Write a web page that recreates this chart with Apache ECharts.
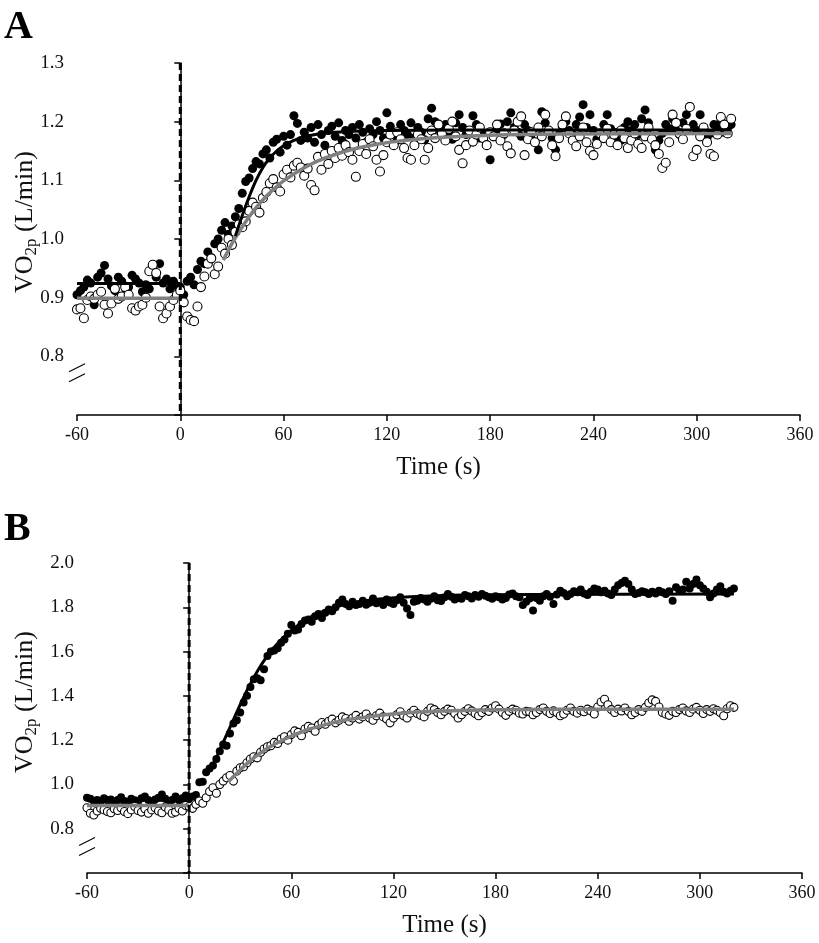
<!DOCTYPE html>
<html><head><meta charset="utf-8">
<script src="https://cdn.jsdelivr.net/npm/echarts@6/dist/echarts.min.js"></script>
<style>html,body{margin:0;padding:0;background:#fff}#c{width:819px;height:943px}</style>
</head><body><div id="c"></div>
<script>
// ---- time grid (s) ----
const times = [-60,-58,-56,-54,-52,-50,-48,-46,-44,-42,-40,-38,-36,-34,-32,-30,-28,-26,-24,-22,-20,-18,-16,-14,-12,-10,-8,-6,-4,-2,
0,2,4,6,8,10,12,14,16,18,20,22,24,26,28,30,32,34,36,38,40,42,44,46,48,50,52,54,56,58,60,62,64,66,68,70,72,74,76,78,
80,82,84,86,88,90,92,94,96,98,100,102,104,106,108,110,112,114,116,118,120,122,124,126,128,130,132,134,136,138,
140,142,144,146,148,150,152,154,156,158,160,162,164,166,168,170,172,174,176,178,180,182,184,186,188,190,192,194,196,198,
200,202,204,206,208,210,212,214,216,218,220,222,224,226,228,230,232,234,236,238,240,242,244,246,248,250,252,254,256,258,
260,262,264,266,268,270,272,274,276,278,280,282,284,286,288,290,292,294,296,298,300,302,304,306,308,310,312,314,316,318,320];

// ---- Panel A: filled circles ----
const vo2A_filled = [
0.905,0.912,0.918,0.930,0.925,0.888,0.935,0.942,0.955,0.932,
0.920,0.912,0.935,0.928,0.905,0.918,0.938,0.932,0.925,0.910,
0.922,0.915,0.945,0.935,0.958,0.925,0.932,0.915,0.928,0.920,
0.918,0.905,0.928,0.935,0.922,0.948,0.962,0.958,0.978,0.968,
0.992,1.000,1.015,1.028,1.008,1.022,1.038,1.052,1.078,1.098,
1.104,1.120,1.132,1.128,1.145,1.152,1.138,1.165,1.170,1.148,
1.175,1.160,1.178,1.210,1.197,1.168,1.182,1.172,1.190,1.165,
1.195,1.178,1.160,1.185,1.192,1.175,1.198,1.168,1.185,1.178,
1.190,1.172,1.195,1.182,1.165,1.188,1.178,1.200,1.185,1.172,
1.215,1.192,1.180,1.168,1.195,1.185,1.178,1.198,1.172,1.190,
1.182,1.169,1.205,1.223,1.200,1.188,1.178,1.195,1.182,1.170,
1.198,1.212,1.190,1.178,1.185,1.210,1.195,1.172,1.180,1.160,
1.135,1.175,1.188,1.196,1.178,1.200,1.215,1.190,1.182,1.175,
1.195,1.185,1.170,1.165,1.152,1.217,1.198,1.185,1.172,1.152,
1.178,1.190,1.200,1.185,1.178,1.195,1.208,1.229,1.190,1.212,
1.185,1.170,1.178,1.195,1.212,1.188,1.175,1.182,1.168,1.190,
1.200,1.185,1.195,1.178,1.205,1.220,1.198,1.172,1.152,1.168,
1.180,1.195,1.188,1.205,1.185,1.178,1.198,1.212,1.226,1.195,
1.185,1.212,1.190,1.172,1.180,1.195,1.188,1.200,1.182,1.190,
1.195];

// ---- Panel A: open circles ----
const vo2A_open = [
0.880,0.882,0.865,0.896,0.902,0.898,0.905,0.910,0.888,0.873,
0.890,0.915,0.898,0.902,0.918,0.905,0.882,0.878,0.885,0.888,
0.900,0.945,0.956,0.942,0.885,0.865,0.873,0.885,0.896,0.905,
0.912,0.892,0.868,0.862,0.860,0.885,0.918,0.936,0.958,0.967,
0.940,0.953,0.985,0.975,1.000,0.990,1.012,1.025,1.020,1.030,
1.048,1.062,1.055,1.045,1.070,1.080,1.095,1.102,1.088,1.081,
1.110,1.118,1.105,1.125,1.130,1.122,1.108,1.120,1.092,1.083,
1.140,1.118,1.145,1.128,1.150,1.138,1.155,1.142,1.160,1.148,
1.135,1.106,1.150,1.162,1.145,1.170,1.158,1.135,1.115,1.143,
1.165,1.178,1.160,1.182,1.170,1.155,1.138,1.135,1.160,1.178,
1.170,1.135,1.155,1.185,1.172,1.195,1.180,1.168,1.188,1.200,
1.175,1.152,1.129,1.160,1.185,1.166,1.178,1.190,1.172,1.160,
1.182,1.175,1.195,1.168,1.180,1.158,1.146,1.185,1.200,1.209,
1.143,1.170,1.182,1.165,1.190,1.175,1.212,1.185,1.160,1.141,
1.172,1.195,1.209,1.180,1.168,1.158,1.175,1.190,1.165,1.150,
1.143,1.162,1.180,1.172,1.188,1.165,1.178,1.160,1.185,1.172,
1.155,1.168,1.180,1.162,1.155,1.175,1.190,1.170,1.160,1.145,
1.121,1.130,1.165,1.212,1.198,1.180,1.170,1.188,1.225,1.141,
1.152,1.175,1.190,1.165,1.145,1.141,1.178,1.208,1.195,1.180,
1.205];

// ---- Panel B: filled circles ----
const vo2B_filled = [
0.940,0.935,0.925,0.930,0.920,0.938,0.928,0.932,0.915,0.930,
0.942,0.925,0.918,0.935,0.928,0.922,0.938,0.945,0.930,0.920,
0.932,0.940,0.955,0.935,0.925,0.930,0.945,0.928,0.938,0.950,
0.935,0.945,0.952,1.010,1.012,1.055,1.072,1.085,1.115,1.150,
1.180,1.175,1.230,1.275,1.290,1.325,1.370,1.400,1.440,1.475,
1.480,1.470,1.520,1.580,1.600,1.605,1.615,1.640,1.655,1.680,
1.720,1.695,1.700,1.725,1.740,1.745,1.735,1.760,1.770,1.752,
1.775,1.790,1.782,1.800,1.820,1.835,1.815,1.805,1.825,1.810,
1.815,1.830,1.812,1.820,1.840,1.818,1.825,1.810,1.835,1.822,
1.815,1.832,1.845,1.820,1.795,1.765,1.825,1.830,1.842,1.835,
1.825,1.838,1.850,1.832,1.828,1.845,1.860,1.848,1.835,1.842,
1.838,1.855,1.850,1.840,1.855,1.848,1.860,1.852,1.845,1.838,
1.850,1.845,1.835,1.842,1.858,1.862,1.850,1.845,1.810,1.825,
1.840,1.785,1.842,1.830,1.850,1.860,1.848,1.815,1.858,1.875,
1.865,1.850,1.860,1.872,1.868,1.880,1.862,1.855,1.870,1.885,
1.880,1.868,1.875,1.862,1.855,1.880,1.900,1.910,1.920,1.905,
1.880,1.860,1.865,1.872,1.868,1.860,1.870,1.862,1.875,1.868,
1.860,1.872,1.830,1.890,1.875,1.880,1.915,1.885,1.905,1.925,
1.900,1.885,1.870,1.845,1.862,1.880,1.895,1.870,1.862,1.875,
1.885];

// ---- Panel B: open circles ----
const vo2B_open = [
0.895,0.870,0.862,0.880,0.892,0.885,0.878,0.872,0.890,0.882,
0.895,0.878,0.868,0.885,0.900,0.882,0.875,0.890,0.870,0.885,
0.895,0.880,0.872,0.898,0.885,0.870,0.875,0.892,0.880,0.905,
0.900,0.892,0.910,0.925,0.915,0.940,0.968,0.985,0.960,1.000,
1.015,1.030,1.040,1.015,1.060,1.075,1.080,1.098,1.115,1.125,
1.120,1.145,1.160,1.170,1.175,1.190,1.185,1.205,1.215,1.200,
1.225,1.242,1.235,1.220,1.250,1.262,1.255,1.240,1.268,1.280,
1.272,1.285,1.295,1.278,1.290,1.305,1.298,1.285,1.300,1.312,
1.295,1.305,1.318,1.300,1.290,1.310,1.322,1.305,1.295,1.278,
1.300,1.315,1.328,1.310,1.300,1.322,1.335,1.320,1.312,1.305,
1.330,1.345,1.338,1.325,1.315,1.330,1.340,1.335,1.320,1.300,
1.315,1.330,1.342,1.332,1.320,1.310,1.325,1.338,1.330,1.345,
1.355,1.340,1.325,1.312,1.330,1.340,1.335,1.322,1.318,1.330,
1.328,1.315,1.325,1.338,1.345,1.330,1.320,1.332,1.325,1.310,
1.318,1.335,1.345,1.330,1.322,1.335,1.328,1.340,1.332,1.318,
1.350,1.372,1.385,1.360,1.338,1.325,1.340,1.332,1.345,1.330,
1.315,1.325,1.338,1.330,1.348,1.368,1.382,1.375,1.350,1.325,
1.318,1.312,1.330,1.325,1.338,1.345,1.332,1.325,1.340,1.348,
1.335,1.320,1.338,1.330,1.342,1.335,1.325,1.310,1.342,1.355,
1.348];

// ---- model fits ----
const fitA_black_base_t = [-60, 0],  fitA_black_base_v = [0.924, 0.924];
const fitA_black_t = [32,36,40,44,48,52,56,60,66,72,80,90,105,120,200,320];
const fitA_black_v = [1.005,1.040,1.072,1.100,1.122,1.138,1.150,1.159,1.168,1.174,1.179,1.182,1.184,1.185,1.186,1.186];
const fitA_gray_base_t = [-60, 0],   fitA_gray_base_v = [0.899, 0.899];
const fitA_gray_t = [25,30,35,40,45,50,55,60,70,80,90,100,115,130,150,180,220,320];
const fitA_gray_v = [0.964,0.992,1.016,1.038,1.057,1.073,1.087,1.099,1.118,1.133,1.144,1.153,1.162,1.168,1.173,1.177,1.179,1.180];

const fitB_black_base_t = [-60, 0],  fitB_black_base_v = [0.928, 0.928];
const fitB_black_t = [12,16,20,25,30,35,40,45,50,55,60,70,80,90,100,115,130,160,200,320];
const fitB_black_v = [1.065,1.120,1.190,1.275,1.360,1.440,1.510,1.570,1.620,1.660,1.695,1.750,1.785,1.810,1.826,1.840,1.848,1.855,1.858,1.860];
const fitB_gray_base_t = [-60, 0],   fitB_gray_base_v = [0.905, 0.905];
const fitB_gray_t = [23,28,33,38,43,48,53,60,70,80,90,100,115,130,150,180,220,320];
const fitB_gray_v = [1.012,1.050,1.087,1.120,1.148,1.172,1.193,1.218,1.248,1.270,1.288,1.300,1.315,1.325,1.332,1.337,1.339,1.340];

// ---- axes ----
const xTicks = [-60, 0, 60, 120, 180, 240, 300, 360];
const yTicksA = [0.8, 0.9, 1.0, 1.1, 1.2, 1.3];
const yTicksB = [0.8, 1.0, 1.2, 1.4, 1.6, 1.8, 2.0];
const yRangeA = [0.7, 1.3], yRangeB = [0.6, 2.0];
const onsetTime = 0;

const zip = (t, v) => t.map((x, i) => [x, v[i]]);
const SERIF = '"Liberation Serif", "Times New Roman", serif';

function xAxisCfg(idx) {
  return {
    type: 'value', gridIndex: idx, min: xTicks[0], max: xTicks[xTicks.length - 1], interval: 60,
    name: 'Time (s)', nameLocation: 'middle', nameGap: 40,
    nameTextStyle: { fontFamily: SERIF, fontSize: 25, color: '#111' },
    axisLine: { lineStyle: { color: '#000', width: 1.5 } },
    axisTick: { show: true, inside: false, length: 6, lineStyle: { color: '#000', width: 1.5 } },
    axisLabel: { fontFamily: SERIF, fontSize: 18, color: '#111', margin: 11 },
    splitLine: { show: false }
  };
}
function yAxisCfg(idx, range, interval, shown) {
  return {
    type: 'value', gridIndex: idx, min: range[0], max: range[1], interval: interval,
    axisLine: { show: true, lineStyle: { color: '#000', width: 1.5 } },
    axisTick: { show: true, inside: false, length: 6, lineStyle: { color: '#000', width: 1.5 } },
    axisLabel: {
      fontFamily: SERIF, fontSize: 19, color: '#111', margin: 13,
      formatter: v => { const r = Math.round(v * 10) / 10; return shown.some(s => Math.abs(s - r) < 1e-6) ? r.toFixed(1) : ''; }
    },
    splitLine: { show: false }
  };
}

function scatterFilled(xi, data, size) {
  return { type: 'scatter', xAxisIndex: xi, yAxisIndex: xi, data: data, symbol: 'circle', symbolSize: size,
    itemStyle: { color: '#000', opacity: 1 }, z: 2, animation: false, silent: true };
}
function scatterOpen(xi, data, size) {
  return { type: 'scatter', xAxisIndex: xi, yAxisIndex: xi, data: data, symbol: 'circle', symbolSize: size,
    itemStyle: { color: '#fff', borderColor: '#000', borderWidth: 1.1, opacity: 1 }, z: 3, animation: false, silent: true };
}
function fitLine(xi, data, color, width) {
  return { type: 'line', xAxisIndex: xi, yAxisIndex: xi, data: data, showSymbol: false, smooth: 0.3,
    lineStyle: { color: color, width: width }, z: 4, animation: false, silent: true };
}

const chart = echarts.init(document.getElementById('c'), null, { renderer: 'canvas' });
chart.setOption({
  backgroundColor: '#fff',
  animation: false,
  grid: [
    { left: 77, top: 63, width: 723, height: 352 },
    { left: 87, top: 563, width: 715, height: 310 }
  ],
  xAxis: [xAxisCfg(0), xAxisCfg(1)],
  yAxis: [yAxisCfg(0, yRangeA, 0.1, yTicksA), yAxisCfg(1, yRangeB, 0.2, yTicksB)],
  series: [
    scatterFilled(0, zip(times, vo2A_filled), 9),
    scatterOpen(0, zip(times, vo2A_open), 9),
    fitLine(0, zip(fitA_gray_base_t, fitA_gray_base_v), '#808080', 3.5),
    fitLine(0, zip(fitA_gray_t, fitA_gray_v), '#808080', 3.5),
    fitLine(0, zip(fitA_black_base_t, fitA_black_base_v), '#000', 3),
    fitLine(0, zip(fitA_black_t, fitA_black_v), '#000', 3),
    scatterFilled(1, zip(times, vo2B_filled), 8),
    scatterOpen(1, zip(times, vo2B_open), 8),
    fitLine(1, zip(fitB_gray_base_t, fitB_gray_base_v), '#808080', 3.5),
    fitLine(1, zip(fitB_gray_t, fitB_gray_v), '#808080', 3.5),
    fitLine(1, zip(fitB_black_base_t, fitB_black_base_v), '#000', 3),
    fitLine(1, zip(fitB_black_t, fitB_black_v), '#000', 3)
  ]
});

// decorations: panel letters, y titles, axis-break marks, exercise-onset dashed line
function yTitle(cx, cy) {
  return { type: 'text', x: cx, y: cy, rotation: Math.PI / 2, silent: true,
    style: { text: '{a|VO}{s|2p}{a| (L/min)}', align: 'center', verticalAlign: 'middle',
      rich: { a: { fontFamily: SERIF, fontSize: 26, fill: '#111', lineHeight: 30 },
              s: { fontFamily: SERIF, fontSize: 17, fill: '#111', verticalAlign: 'bottom', lineHeight: 14 } } } };
}
function breakMarks(xi, val) {
  const x0 = chart.convertToPixel({ xAxisIndex: xi }, xTicks[0]);
  const y0 = chart.convertToPixel({ yAxisIndex: xi }, val);
  const mk = dy => ({ type: 'line', silent: true, shape: { x1: x0 - 8, y1: y0 + dy + 4, x2: x0 + 8, y2: y0 + dy - 4 },
    style: { stroke: '#000', lineWidth: 1.2 } });
  return [mk(-5), mk(5)];
}
function onsetLine(xi, range) {
  const x = chart.convertToPixel({ xAxisIndex: xi }, onsetTime);
  const yTop = chart.convertToPixel({ yAxisIndex: xi }, range[1]);
  const yBot = chart.convertToPixel({ yAxisIndex: xi }, range[0]);
  return { type: 'line', silent: true, z: 100, shape: { x1: x, y1: yTop, x2: x, y2: yBot },
    style: { stroke: '#000', lineWidth: 3, lineDash: [7, 4] } };
}
chart.setOption({
  graphic: [
    { type: 'text', left: 4, top: 8, silent: true, style: { text: 'A', font: 'bold 40px ' + SERIF, fill: '#000' } },
    { type: 'text', left: 4, top: 510, silent: true, style: { text: 'B', font: 'bold 40px ' + SERIF, fill: '#000' } },
    yTitle(25, 222),
    yTitle(25, 702),
    ...breakMarks(0, 0.772),
    ...breakMarks(1, 0.72),
    onsetLine(0, yRangeA),
    onsetLine(1, yRangeB)
  ]
});
</script>
</body></html>
